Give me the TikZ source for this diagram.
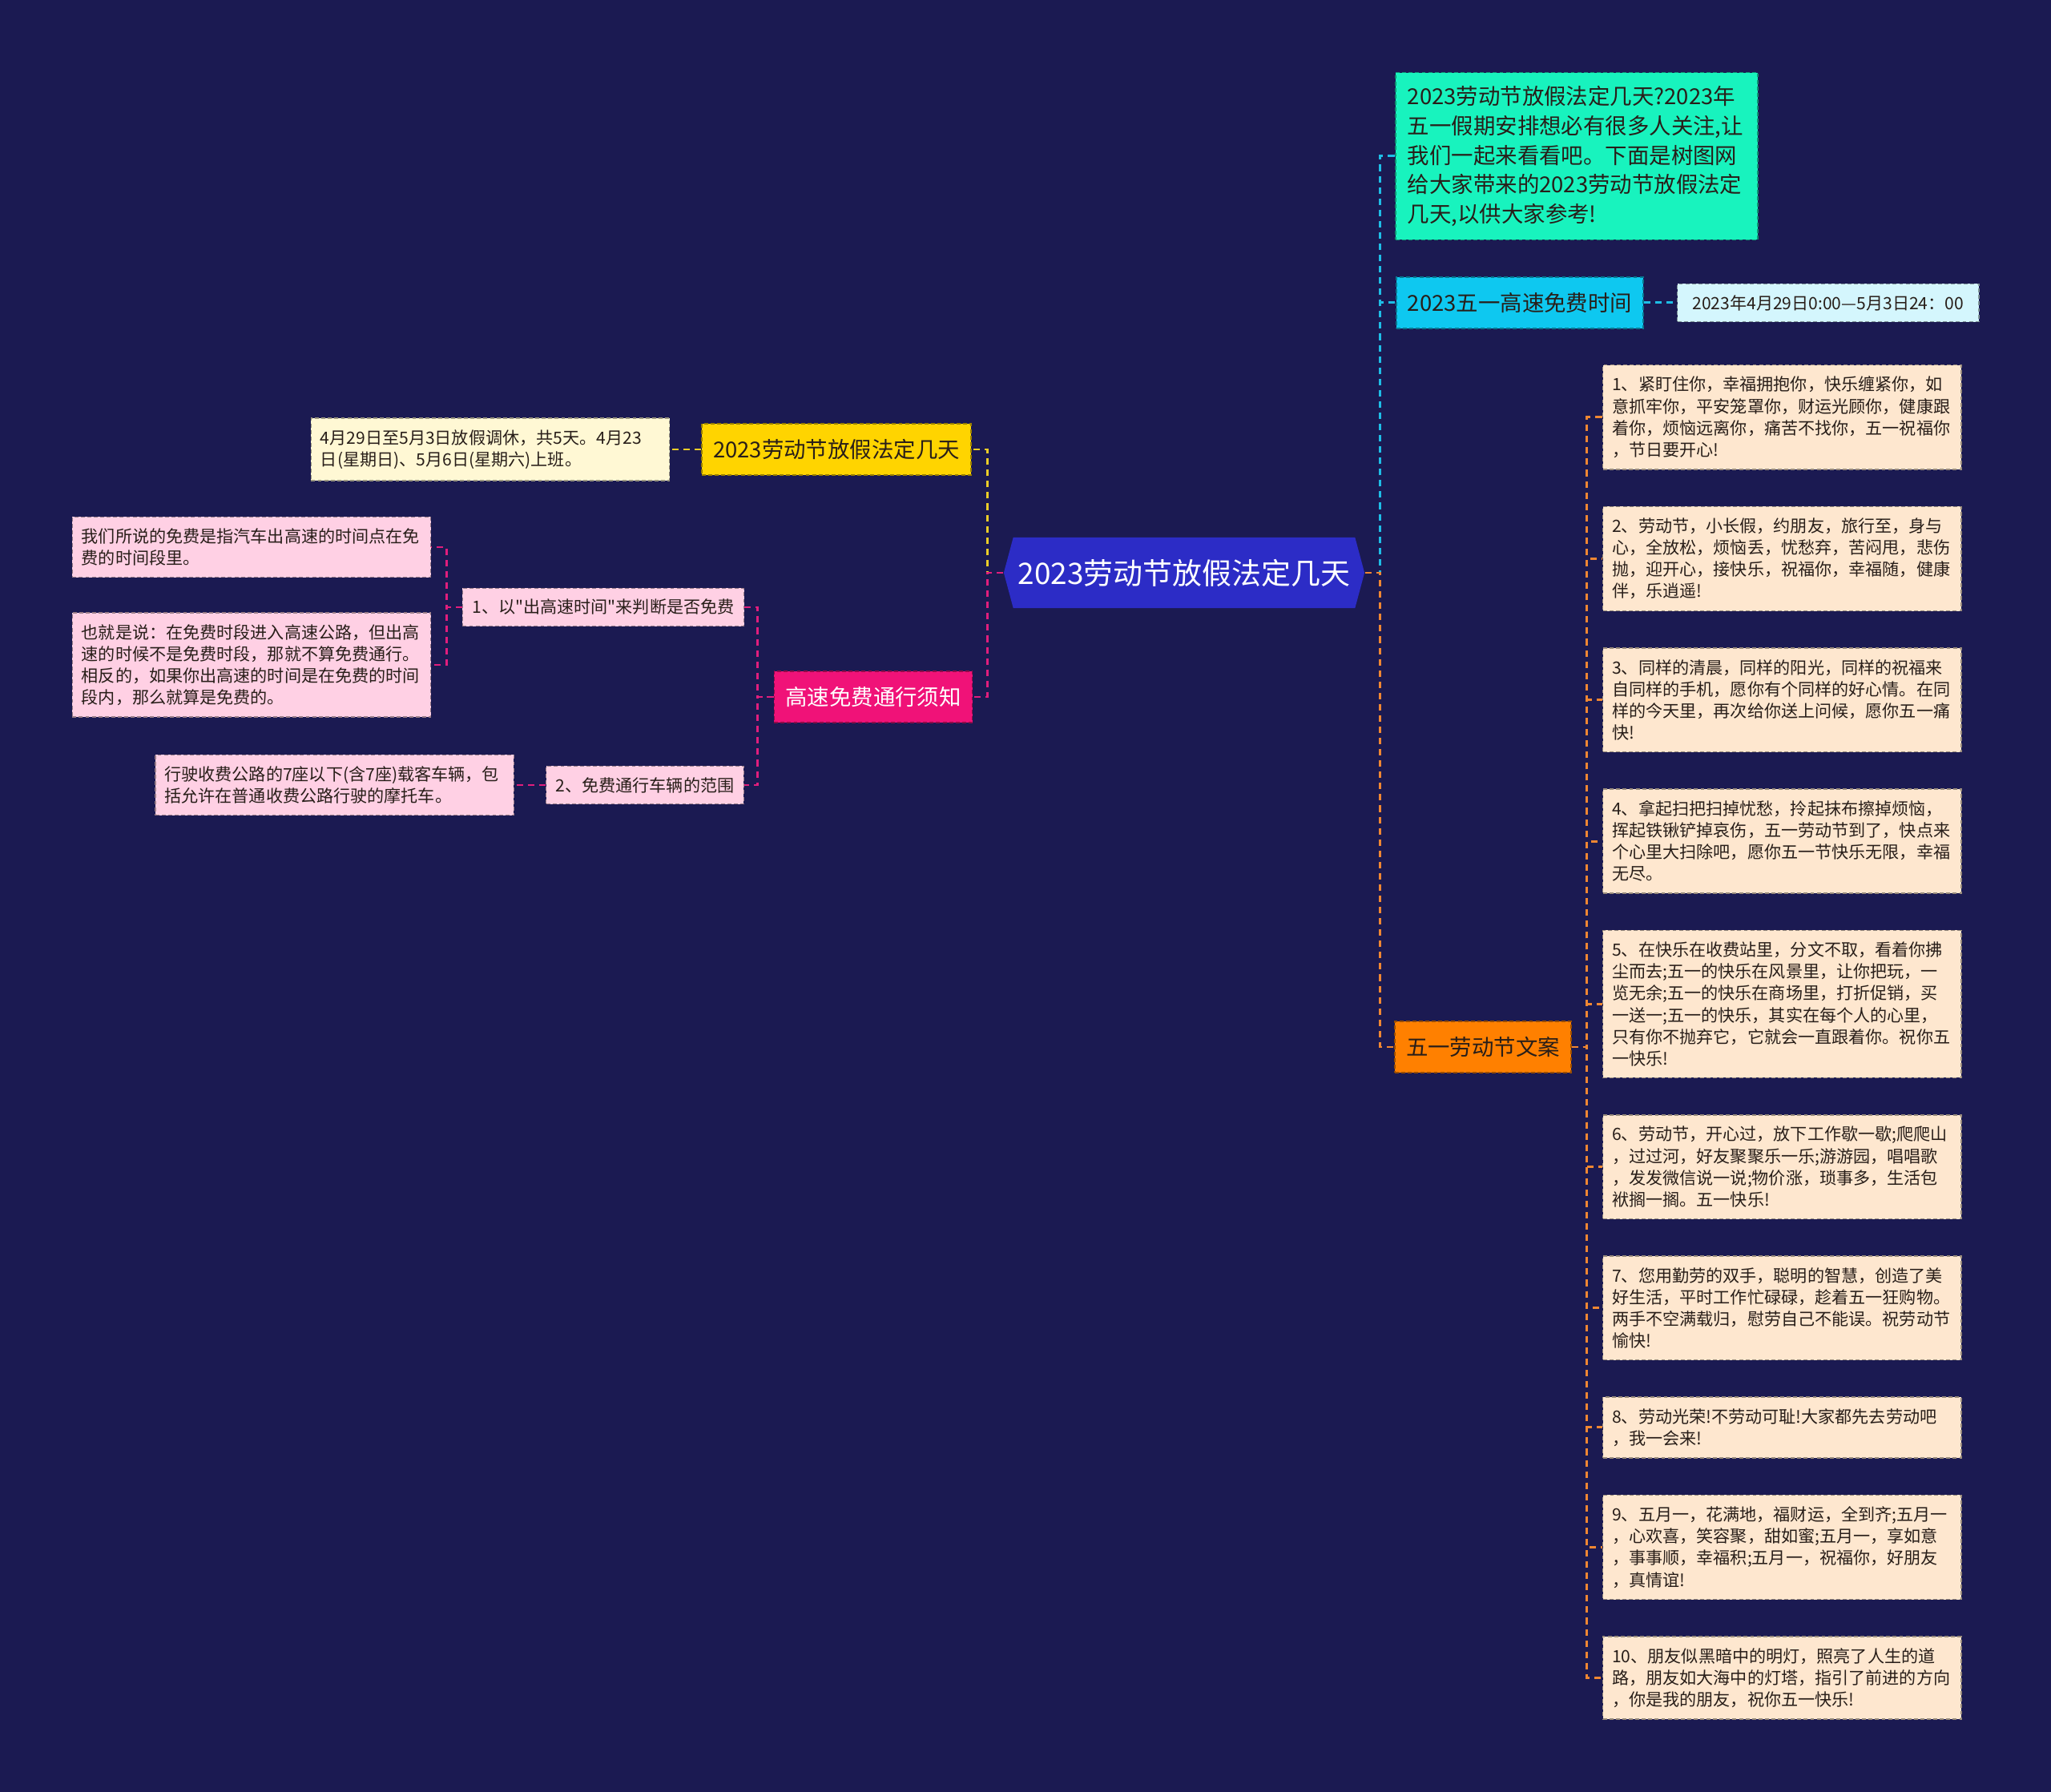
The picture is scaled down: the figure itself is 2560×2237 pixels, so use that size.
\documentclass[tikz,border=0pt]{standalone}
\usepackage{fontspec}
\newfontfamily\cjk{Noto Sans CJK SC}
\usetikzlibrary{shapes.symbols, positioning}

\definecolor{bgnavy}{RGB}{27,26,82}
\definecolor{rootblue}{RGB}{44,44,198}
\definecolor{mint}{RGB}{24,243,190}
\definecolor{sky}{RGB}{14,200,240}
\definecolor{skylight}{RGB}{212,246,253}
\definecolor{orangebox}{RGB}{255,128,0}
\definecolor{peach}{RGB}{254,231,207}
\definecolor{gold}{RGB}{255,212,0}
\definecolor{cream}{RGB}{255,248,212}
\definecolor{rose}{RGB}{240,18,120}
\definecolor{pink}{RGB}{255,208,228}
\definecolor{skyline}{RGB}{30,190,230}
\definecolor{orangeline}{RGB}{240,135,50}
\definecolor{goldline}{RGB}{235,205,40}
\definecolor{roseline}{RGB}{225,30,125}
\definecolor{darkink}{RGB}{40,30,25}

\tikzset{
  box/.style     = {rectangle, draw=#1!60!black, fill=#1, dash pattern=on 1.4pt off 0.9pt, line width=0.4pt, text=darkink},
  central/.style = {shape=signal, signal to=east and west, signal pointer angle=150, fill=rootblue, text=white,
                    font=\cjk\fontsize{10.5pt}{12pt}\selectfont, minimum width=4.5cm, minimum height=0.88cm, inner sep=0pt},
  branch/.style  = {box=#1, font=\cjk\fontsize{7.8pt}{10pt}\selectfont, minimum height=0.64cm, inner xsep=0.14cm, inner ysep=0pt},
  intro/.style   = {box=mint, font=\cjk\fontsize{7.8pt}{10.4pt}\selectfont, text width=4.22cm, align=left,
                    inner xsep=0.15cm, inner ysep=0.17cm},
  small/.style   = {box=#1, font=\cjk\fontsize{6pt}{7.7pt}\selectfont, minimum height=0.47cm, inner xsep=0.12cm, inner ysep=0pt},
  leaf/.style    = {box=#1, font=\cjk\fontsize{6pt}{7.72pt}\selectfont, text width=4.24cm, align=left,
                    inner xsep=0.115cm, inner ysep=0.143cm},
  link/.style    = {line width=0.85pt, dash pattern=on 2.3pt off 1.7pt}
}

\begin{document}
\begin{tikzpicture}[x=0.01cm, y=-0.01cm]
  \fill[bgnavy] (0,0) rectangle (2560,2237);
  \useasboundingbox (0,0) rectangle (2560,2237);

  \node[central] (tema) at (1478,715) {2023劳动节放假法定几天};

  % lato destro
  \node[intro] (intro) at (1968,195) {2023劳动节放假法定几天?2023年\\五一假期安排想必有很多人关注,让\\我们一起来看看吧。下面是树图网\\给大家带来的2023劳动节放假法定\\几天,以供大家参考!};
  \node[branch=sky] (shijian) at (1897,378) {2023五一高速免费时间};
  \node[small=skylight, minimum width=3.76cm, right=0.41cm of shijian] (riqi) {2023年4月29日0:00—5月3日24：00};
  \node[branch=orangebox] (wenan) at (1851,1307) {五一劳动节文案};

  \node[leaf=peach, anchor=north west] (w1) at (2000,455) {1、紧盯住你，幸福拥抱你，快乐缠紧你，如\\意抓牢你，平安笼罩你，财运光顾你，健康跟\\着你，烦恼远离你，痛苦不找你，五一祝福你\\，节日要开心!};
  \node[leaf=peach, below=0.45cm of w1] (w2) {2、劳动节，小长假，约朋友，旅行至，身与\\心，全放松，烦恼丢，忧愁弃，苦闷甩，悲伤\\抛，迎开心，接快乐，祝福你，幸福随，健康\\伴，乐逍遥!};
  \node[leaf=peach, below=0.45cm of w2] (w3) {3、同样的清晨，同样的阳光，同样的祝福来\\自同样的手机，愿你有个同样的好心情。在同\\样的今天里，再次给你送上问候，愿你五一痛\\快!};
  \node[leaf=peach, below=0.45cm of w3] (w4) {4、拿起扫把扫掉忧愁，拎起抹布擦掉烦恼，\\挥起铁锹铲掉哀伤，五一劳动节到了，快点来\\个心里大扫除吧，愿你五一节快乐无限，幸福\\无尽。};
  \node[leaf=peach, below=0.45cm of w4] (w5) {5、在快乐在收费站里，分文不取，看着你拂\\尘而去;五一的快乐在风景里，让你把玩，一\\览无余;五一的快乐在商场里，打折促销，买\\一送一;五一的快乐，其实在每个人的心里，\\只有你不抛弃它，它就会一直跟着你。祝你五\\一快乐!};
  \node[leaf=peach, below=0.45cm of w5] (w6) {6、劳动节，开心过，放下工作歇一歇;爬爬山\\，过过河，好友聚聚乐一乐;游游园，唱唱歌\\，发发微信说一说;物价涨，琐事多，生活包\\袱搁一搁。五一快乐!};
  \node[leaf=peach, below=0.45cm of w6] (w7) {7、您用勤劳的双手，聪明的智慧，创造了美\\好生活，平时工作忙碌碌，趁着五一狂购物。\\两手不空满载归，慰劳自己不能误。祝劳动节\\愉快!};
  \node[leaf=peach, below=0.45cm of w7] (w8) {8、劳动光荣!不劳动可耻!大家都先去劳动吧\\，我一会来!};
  \node[leaf=peach, below=0.45cm of w8] (w9) {9、五月一，花满地，福财运，全到齐;五月一\\，心欢喜，笑容聚，甜如蜜;五月一，享如意\\，事事顺，幸福积;五月一，祝福你，好朋友\\，真情谊!};
  \node[leaf=peach, below=0.45cm of w9] (w10) {10、朋友似黑暗中的明灯，照亮了人生的道\\路，朋友如大海中的灯塔，指引了前进的方向\\，你是我的朋友，祝你五一快乐!};

  % lato sinistro
  \node[branch=gold] (fangjia) at (1044,561) {2023劳动节放假法定几天};
  \node[leaf=cream, left=0.39cm of fangjia] (tiaoxiu) {4月29日至5月3日放假调休，共5天。4月23\\日(星期日)、5月6日(星期六)上班。};
  \node[branch=rose, text=white] (xuzhi) at (1090,870) {高速免费通行须知};
  \node[small=pink] (panduan) at (753,758) {1、以"出高速时间"来判断是否免费};
  \node[small=pink] (fanwei) at (805,980) {2、免费通行车辆的范围};
  \node[leaf=pink] (shuoming) at (314,683) {我们所说的免费是指汽车出高速的时间点在免\\费的时间段里。};
  \node[leaf=pink] (yejiu) at (314,830) {也就是说：在免费时段进入高速公路，但出高\\速的时候不是免费时段，那就不算免费通行。\\相反的，如果你出高速的时间是在免费的时间\\段内，那么就算是免费的。};
  \node[leaf=pink, left=0.39cm of fanwei] (cheliang) {行驶收费公路的7座以下(含7座)载客车辆，包\\括允许在普通收费公路行驶的摩托车。};

  \draw[link, skyline] (tema.east) -- ++(19,0) |- (intro.west);
  \draw[link, skyline] (tema.east) -- ++(19,0) |- (shijian.west);
  \draw[link, skyline] (shijian) -- (riqi);
  \draw[link, orangeline] (tema.east) -- ++(19,0) |- (wenan.west);

  \draw[link, orangeline] (wenan.east) -- ++(19,0) |- (w1.west);
  \draw[link, orangeline] (wenan.east) -- ++(19,0) |- (w2.west);
  \draw[link, orangeline] (wenan.east) -- ++(19,0) |- (w3.west);
  \draw[link, orangeline] (wenan.east) -- ++(19,0) |- (w4.west);
  \draw[link, orangeline] (wenan.east) -- ++(19,0) |- (w5.west);
  \draw[link, orangeline] (wenan.east) -- ++(19,0) |- (w6.west);
  \draw[link, orangeline] (wenan.east) -- ++(19,0) |- (w7.west);
  \draw[link, orangeline] (wenan.east) -- ++(19,0) |- (w8.west);
  \draw[link, orangeline] (wenan.east) -- ++(19,0) |- (w9.west);
  \draw[link, orangeline] (wenan.east) -- ++(19,0) |- (w10.west);

  \draw[link, goldline] (tema.west) -- ++(-20,0) |- (fangjia.east);
  \draw[link, goldline] (fangjia) -- (tiaoxiu);
  \draw[link, roseline] (tema.west) -- ++(-20,0) |- (xuzhi.east);
  \draw[link, roseline] (xuzhi.west) -- ++(-20,0) |- (panduan.east);
  \draw[link, roseline] (xuzhi.west) -- ++(-20,0) |- (fanwei.east);
  \draw[link, roseline] (panduan.west) -- ++(-19,0) |- (shuoming.east);
  \draw[link, roseline] (panduan.west) -- ++(-19,0) |- (yejiu.east);
  \draw[link, roseline] (fanwei) -- (cheliang);

\end{tikzpicture}
\end{document}
